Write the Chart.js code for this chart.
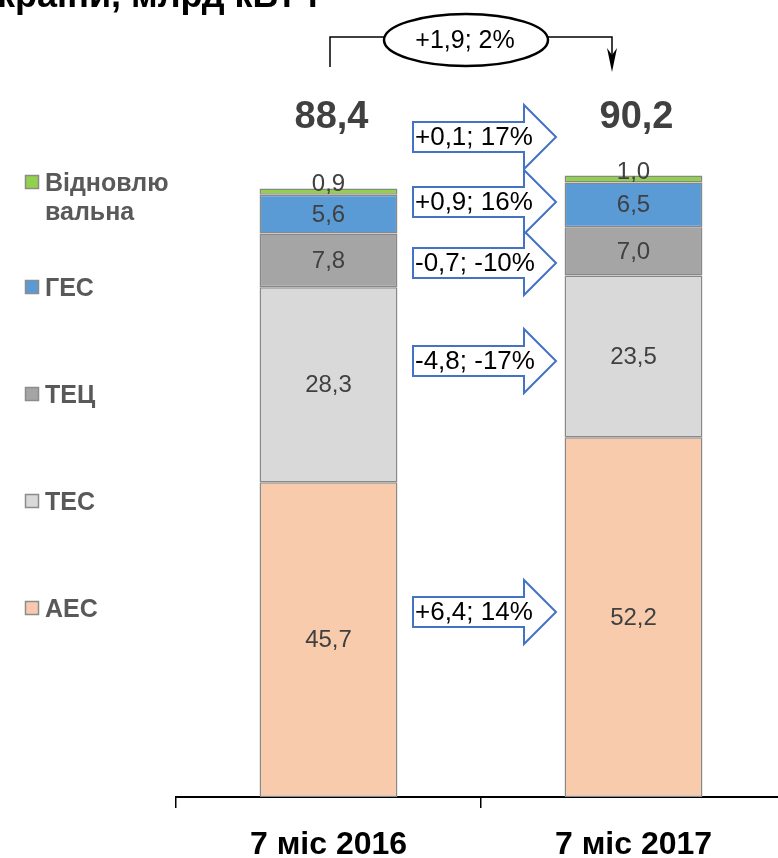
<!DOCTYPE html>
<html><head><meta charset="utf-8">
<script src="https://cdn.jsdelivr.net/npm/chart.js@4.4.0/dist/chart.umd.min.js"></script>
<style>
html,body{margin:0;padding:0;overflow:hidden;background:#fff;width:778px;height:858px}
#wrap{position:absolute;left:0;top:0;width:786px;height:858px}
</style></head>
<body><div id="wrap"><canvas id="c"></canvas></div>
<script>
// ---- data ----
const categories = ['7 міс 2016', '7 міс 2017'];
const seriesNames = ['АЕС', 'ТЕС', 'ТЕЦ', 'ГЕС', 'Відновлювальна'];
const aes = [45.7, 52.2];
const tes = [28.3, 23.5];
const tec = [7.8, 7.0];
const ges = [5.6, 6.5];
const renew = [0.9, 1.0];
const totals = [88.4, 90.2];
const changeLabels = ['+6,4; 14%', '-4,8; -17%', '-0,7; -10%', '+0,9; 16%', '+0,1; 17%'];
const totalChange = '+1,9; 2%';
const titleText = 'країни, млрд кВт·г';
const legendLines = [['АЕС'], ['ТЕС'], ['ТЕЦ'], ['ГЕС'], ['Відновлю', 'вальна']];

// ---- styles / layout ----
const colors = ['#F8CBAD', '#D9D9D9', '#A5A5A5', '#5B9BD5', '#92D050'];
const FONT = "'Liberation Sans', Arial, sans-serif";
const arrowCenters = [612, 361, 263, 202, 137];
const legendBaselines = [617, 510, 403, 296, 191];

const fmt = v => v.toFixed(1).replace('.', ',');

const overlay = {
  id: 'overlay',
  afterDraw(chart) {
    const ctx = chart.ctx;
    ctx.save();
    // segment labels
    ctx.font = '24px ' + FONT;
    ctx.fillStyle = '#404040';
    ctx.textAlign = 'center';
    ctx.textBaseline = 'middle';
    chart.data.datasets.forEach((ds, di) => {
      const meta = chart.getDatasetMeta(di);
      meta.data.forEach((el, i) => {
        let cy = (el.y + el.base) / 2;
        if (Math.abs(el.base - el.y) < 15) cy -= 8;
        ctx.fillText(fmt(ds.data[i]), el.x, cy + 1);
      });
    });
    // totals
    const topMeta = chart.getDatasetMeta(0);
    ctx.font = 'bold 38px ' + FONT;
    topMeta.data.forEach((el, i) => {
      ctx.fillText(fmt(totals[i]), el.x + 3, 118);
    });
    // arrows
    ctx.lineWidth = 2;
    ctx.strokeStyle = '#4472C4';
    changeLabels.forEach((t, k) => {
      const cy = arrowCenters[k];
      const x0 = 413, xb = 524, xt = 556, bh = 15, hh = 32;
      ctx.beginPath();
      ctx.moveTo(x0, cy - bh);
      ctx.lineTo(xb, cy - bh);
      ctx.lineTo(xb, cy - hh);
      ctx.lineTo(xt, cy);
      ctx.lineTo(xb, cy + hh);
      ctx.lineTo(xb, cy + bh);
      ctx.lineTo(x0, cy + bh);
      ctx.closePath();
      ctx.fillStyle = '#fff';
      ctx.fill();
      ctx.stroke();
      ctx.fillStyle = '#000';
      ctx.font = '26px ' + FONT;
      ctx.textAlign = 'left';
      ctx.fillText(t, 415, cy + 1);
    });
    // top connector
    ctx.strokeStyle = '#000';
    ctx.lineWidth = 1.5;
    ctx.beginPath();
    ctx.moveTo(330, 67); ctx.lineTo(330, 37); ctx.lineTo(384, 37);
    ctx.moveTo(548, 37); ctx.lineTo(612, 37); ctx.lineTo(612, 62);
    ctx.stroke();
    ctx.fillStyle = '#000';
    ctx.beginPath();
    ctx.moveTo(612, 72); ctx.lineTo(607, 48); ctx.lineTo(612, 55); ctx.lineTo(617, 48);
    ctx.closePath(); ctx.fill();
    ctx.lineWidth = 2.5;
    ctx.beginPath();
    ctx.ellipse(466, 40, 82, 26, 0, 0, Math.PI * 2);
    ctx.fillStyle = '#fff'; ctx.fill(); ctx.stroke();
    ctx.fillStyle = '#000';
    ctx.font = '25px ' + FONT;
    ctx.textAlign = 'center';
    ctx.fillText(totalChange, 465, 41);
    // legend
    ctx.textAlign = 'left';
    ctx.textBaseline = 'alphabetic';
    ctx.font = 'bold 25px ' + FONT;
    chart.data.datasets.forEach((ds, di) => {
      const b = legendBaselines[di];
      ctx.fillStyle = ds.backgroundColor;
      ctx.fillRect(25, b - 16, 14, 14);
      ctx.strokeStyle = '#8C8C8C';
      ctx.lineWidth = 1.5;
      ctx.strokeRect(25.5, b - 15.5, 13, 13);
      ctx.fillStyle = '#595959';
      legendLines[di].forEach((ln, li) => ctx.fillText(ln, 45, b + li * 29));
    });
    // title (cut off at top)
    ctx.fillStyle = '#000';
    ctx.font = 'bold 36px ' + FONT;
    ctx.fillText(titleText, -3, 7);
    ctx.restore();
  }
};

const seriesValues = [aes, tes, tec, ges, renew];
new Chart(document.getElementById('c'), {
  type: 'bar',
  data: {
    labels: categories,
    datasets: seriesNames.map((n, i) => ({
      label: n,
      data: seriesValues[i],
      backgroundColor: colors[i],
      borderColor: '#888888',
      borderWidth: 1.5,
      borderSkipped: false,
      categoryPercentage: 1,
      barPercentage: 0.452
    }))
  },
  options: {
    responsive: true,
    maintainAspectRatio: false,
    animation: false,
    devicePixelRatio: 1,
    layout: { padding: { left: 176, top: 108, right: 0, bottom: 0 } },
    plugins: { legend: { display: false }, tooltip: { enabled: false } },
    scales: {
      x: {
        stacked: true,
        afterFit: s => { s.height = 61; },
        grid: { display: true, drawOnChartArea: false, drawTicks: true, tickLength: 11, color: '#000', lineWidth: 1.5, offset: true },
        border: { display: true, color: '#000', width: 2 },
        ticks: { color: '#000', font: { family: FONT, size: 32, weight: 'bold' }, padding: 18 }
      },
      y: { stacked: true, display: false, min: 0, max: 100 }
    }
  },
  plugins: [overlay]
});
</script>
</body></html>
